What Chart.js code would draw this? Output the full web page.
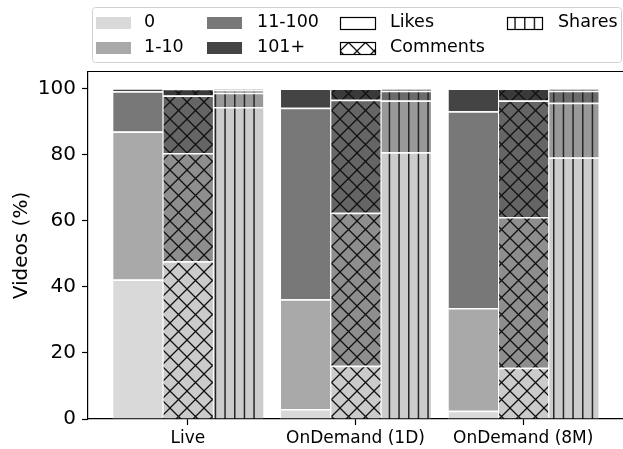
<!DOCTYPE html>
<html>
<head>
<meta charset="utf-8">
<script src="https://cdn.jsdelivr.net/npm/chart.js@4.4.1/dist/chart.umd.min.js"></script>
<style>
  html, body { margin: 0; padding: 0; background: #fff; }
  #wrap { width: 623px; height: 449px; }
</style>
</head>
<body>
<div id="wrap"><canvas id="chart" width="623" height="449"></canvas></div>
<script>
// --------------------------------
// Data
// --------------------------------

const categories = ['Live', 'OnDemand (1D)', 'OnDemand (8M)'];
const bins = ['0', '1-10', '11-100', '101+'];
const yTicks = [0, 20, 40, 60, 80, 100];

const likes0 = [42.2, 3.0, 2.5];
const likes1to10 = [44.8, 33.2, 31.1];
const likes11to100 = [12.2, 58.0, 59.5];
const likes101 = [0.8, 5.8, 6.9];

const comments0 = [47.7, 16.1, 15.5];
const comments1to10 = [32.8, 46.3, 45.6];
const comments11to100 = [17.4, 34.2, 35.3];
const comments101 = [2.0, 3.4, 3.6];

const shares0 = [94.4, 80.7, 79.1];
const shares1to10 = [4.3, 15.7, 16.6];
const shares11to100 = [0.8, 2.9, 3.6];
const shares101 = [0.3, 0.6, 0.6];

// --------------------------------
// Colours and hatches
// --------------------------------

const likeColors = ['#d9d9d9', '#a9a9a9', '#787878', '#444444'];
const commentColors = ['#cbcbcb', '#8e8e8e', '#656565', '#3a3a3a'];
const shareColors = ['#cccccc', '#999999', '#6c6c6c', '#444444'];

const FONT = '"DejaVu Sans", "Liberation Sans", sans-serif';

function crossHatch(bg) {
    const size = 17;
    const c = document.createElement('canvas');
    c.width = size; c.height = size;
    const g = c.getContext('2d');
    g.fillStyle = bg;
    g.fillRect(0, 0, size, size);
    g.strokeStyle = '#111111';
    g.lineWidth = 1.3;
    g.beginPath();
    for (const o of [-size, 0, size]) {
        g.moveTo(o, 0); g.lineTo(o + size, size);
        g.moveTo(o + size, 0); g.lineTo(o, size);
    }
    g.stroke();
    return g.createPattern(c, 'repeat');
}

function lineHatch(bg) {
    const c = document.createElement('canvas');
    c.width = 29; c.height = 4;
    const g = c.getContext('2d');
    g.fillStyle = bg;
    g.fillRect(0, 0, 29, 4);
    g.fillStyle = '#262626';
    for (const x of [2, 11.7, 21.3]) g.fillRect(x, 0, 1.5, 4);
    return g.createPattern(c, 'repeat');
}

function points(vals) {
    return vals.map((v, i) => ({ x: i, y: v }));
}

const likeSets = [likes0, likes1to10, likes11to100, likes101];
const commentSets = [comments0, comments1to10, comments11to100, comments101];
const shareSets = [shares0, shares1to10, shares11to100, shares101];

const datasets = [];
likeSets.forEach((vals, i) => datasets.push({
    label: 'Likes ' + bins[i], stack: 'likes', data: points(vals),
    backgroundColor: likeColors[i]
}));
commentSets.forEach((vals, i) => datasets.push({
    label: 'Comments ' + bins[i], stack: 'comments', data: points(vals),
    backgroundColor: crossHatch(commentColors[i])
}));
shareSets.forEach((vals, i) => datasets.push({
    label: 'Shares ' + bins[i], stack: 'shares', data: points(vals),
    backgroundColor: lineHatch(shareColors[i])
}));
datasets.forEach(d => {
    d.borderColor = '#ffffff';
    d.borderWidth = { top: 1.5, left: 1, right: 0, bottom: 0 };
    d.borderSkipped = false;
});

// --------------------------------
// Legend + top spine plugin
// --------------------------------

const legendPlugin = {
    id: 'mplLegend',
    afterDraw(chart) {
        const ctx = chart.ctx;
        const area = chart.chartArea;
        ctx.save();

        // top spine
        ctx.strokeStyle = '#000';
        ctx.lineWidth = 1.2;
        ctx.beginPath();
        ctx.moveTo(area.left, area.top - 0.5);
        ctx.lineTo(chart.width, area.top - 0.5);
        ctx.stroke();

        // frame
        ctx.fillStyle = 'rgba(255,255,255,0.8)';
        ctx.strokeStyle = '#d0d0d0';
        ctx.lineWidth = 1;
        ctx.beginPath();
        ctx.roundRect(92.5, 7.5, 529, 55, 3);
        ctx.fill();
        ctx.stroke();

        const rows = [22.5, 47.5];
        const cols = [
            { sx: 96, tx: 144, items: [['0', likeColors[0]], ['1-10', likeColors[1]]] },
            { sx: 207, tx: 257, items: [['11-100', likeColors[2]], ['101+', likeColors[3]]] },
            { sx: 340, tx: 390, items: [['Likes', 'plain'], ['Comments', 'cross']] },
            { sx: 507, tx: 558, items: [['Shares', 'lines']] }
        ];
        const sw = 35, sh = 12;
        ctx.font = '17.5px ' + FONT;
        ctx.textBaseline = 'middle';
        ctx.textAlign = 'left';
        cols.forEach(col => {
            col.items.forEach((it, r) => {
                const y = rows[r];
                const top = Math.round(y - sh / 2);
                if (it[1] === 'plain' || it[1] === 'cross' || it[1] === 'lines') {
                    ctx.fillStyle = it[1] === 'plain' ? '#fff'
                        : it[1] === 'cross' ? crossHatch('#ffffff') : lineHatch('#ffffff');
                    ctx.fillRect(col.sx, top, sw, sh);
                    ctx.strokeStyle = '#000';
                    ctx.lineWidth = 1.2;
                    ctx.strokeRect(col.sx + 0.5, top + 0.5, sw, sh);
                } else {
                    ctx.fillStyle = it[1];
                    ctx.fillRect(col.sx, top, sw, sh);
                }
                ctx.fillStyle = '#000';
                ctx.fillText(it[0], col.tx, y);
            });
        });
        ctx.restore();
    }
};

// --------------------------------
// Chart
// --------------------------------

const barChart = new Chart(document.getElementById('chart'), {
    type: 'bar',
    data: { datasets: datasets },
    plugins: [legendPlugin],
    options: {
        responsive: false,
        animation: false,
        layout: { padding: { top: 72, left: 0, right: 0, bottom: 0 } },
        datasets: { bar: { categoryPercentage: 0.9, barPercentage: 1.0 } },
        plugins: { legend: { display: false }, tooltip: { enabled: false } },
        scales: {
            x: {
                type: 'linear',
                min: -0.595,
                max: 2.595,
                offset: false,
                afterFit: s => { s.height = 30; },
                afterBuildTicks: s => { s.ticks = categories.map((c, i) => ({ value: i })); },
                grid: { display: true, offset: false, drawOnChartArea: false, tickLength: 6, tickColor: '#000', tickWidth: 1.2 },
                border: { display: true, color: '#000', width: 1.2 },
                ticks: {
                    padding: 3,
                    color: '#000',
                    font: { family: FONT, size: 17 },
                    maxRotation: 0,
                    callback: v => categories[v] !== undefined ? categories[v] : ''
                }
            },
            y: {
                stacked: true,
                min: 0,
                max: 105,
                afterFit: s => { s.width = 88; },
                afterBuildTicks: s => { s.ticks = yTicks.map(v => ({ value: v })); },
                grid: { display: true, drawOnChartArea: false, tickLength: 6, tickColor: '#000', tickWidth: 1.2 },
                border: { display: true, color: '#000', width: 1.2 },
                ticks: {
                    padding: 6,
                    color: '#000',
                    font: { family: FONT, size: 20 }
                },
                title: {
                    display: true,
                    text: 'Videos (%)',
                    color: '#000',
                    font: { family: FONT, size: 20 },
                    padding: { top: 10, bottom: 0 }
                }
            }
        }
    }
});
</script>
</body>
</html>
